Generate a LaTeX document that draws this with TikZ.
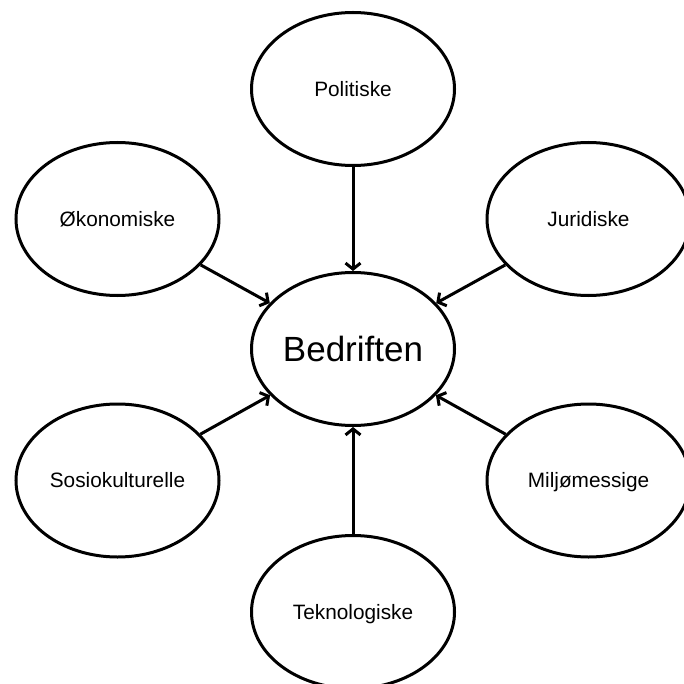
\documentclass[tikz,border=0pt]{standalone}
\usepackage{fontspec}
\setmainfont{Liberation Sans}
\usetikzlibrary{shapes.geometric,arrows.meta}
\begin{document}
\begin{tikzpicture}[x=1pt,y=-1pt,
  factor/.style={ellipse,draw,line width=3pt,minimum width=203pt,minimum height=153pt,
    inner sep=0pt,text height=14.9pt,text depth=0pt,font=\fontsize{20.8}{24}\selectfont},
  core/.style={factor,text height=25pt,font=\fontsize{35}{40}\selectfont},
  influence/.style={line width=3pt,-{Straight Barb[length=6pt,width=15pt,line width=3pt]}}]
  \useasboundingbox (0,0) rectangle (683,684);
  \node[core]   (bed) at (353,349)   {Bedriften};
  \node[factor] (pol) at (353,89)    {Politiske};
  \node[factor] (oko) at (117.5,219) {Økonomiske};
  \node[factor] (jur) at (588.5,219) {Juridiske};
  \node[factor] (sos) at (117.5,480.5) {Sosiokulturelle};
  \node[factor] (mil) at (588.5,480.5) {Miljømessige};
  \node[factor] (tek) at (353,612)   {Teknologiske};
  \foreach \src in {pol,oko,jur,sos,mil,tek}
    \draw[influence] (\src) -- (bed);
\end{tikzpicture}
\end{document}
